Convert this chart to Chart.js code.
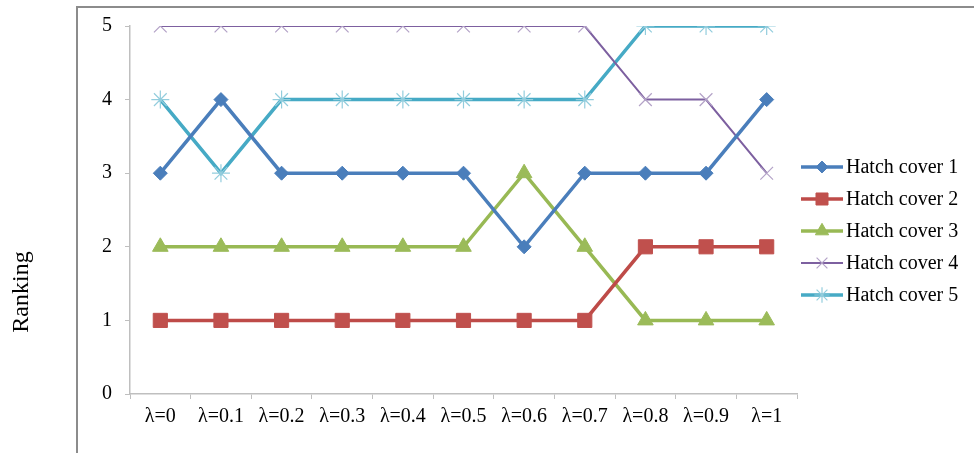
<!DOCTYPE html>
<html>
<head>
<meta charset="utf-8">
<script src="https://cdn.jsdelivr.net/npm/chart.js@4"></script>
<style>
  html, body { margin: 0; padding: 0; background: #fff; }
  #wrap { width: 974px; height: 453px; }
</style>
</head>
<body>
<div id="wrap"><canvas id="myChart" width="974" height="453"></canvas></div>
<script>
// categories + series
const lambdas = ['λ=0', 'λ=0.1', 'λ=0.2', 'λ=0.3', 'λ=0.4', 'λ=0.5', 'λ=0.6', 'λ=0.7', 'λ=0.8', 'λ=0.9', 'λ=1']
const hatch1 = [3, 4, 3, 3, 3, 3, 2, 3, 3, 3, 4]
const hatch2 = [1, 1, 1, 1, 1, 1, 1, 1, 2, 2, 2]
const hatch3 = [2, 2, 2, 2, 2, 2, 3, 2, 1, 1, 1]
const hatch4 = [5, 5, 5, 5, 5, 5, 5, 5, 4, 4, 3]
const hatch5 = [4, 3, 4, 4, 4, 4, 4, 4, 5, 5, 5]
const yTicks = [0, 1, 2, 3, 4, 5]

const serif = '"Liberation Serif", "Times New Roman", serif'

// frame, axis title and legend are drawn here
const extras = {
  id: 'extras',
  beforeDraw(chart) {
    const c = chart.ctx
    c.save()
    c.fillStyle = '#fff'
    c.fillRect(0, 0, chart.width, chart.height)
    c.strokeStyle = '#8c8c8c'
    c.lineWidth = 2
    c.beginPath()
    c.moveTo(77, chart.height + 2)
    c.lineTo(77, 7)
    c.lineTo(chart.width + 2, 7)
    c.stroke()
    c.restore()
  },
  afterDraw(chart) {
    const c = chart.ctx
    const area = chart.chartArea
    c.save()
    // y title
    c.translate(22, 292)
    c.rotate(-Math.PI / 2)
    c.font = '24px ' + serif
    c.fillStyle = '#000'
    c.textAlign = 'center'
    c.textBaseline = 'middle'
    c.fillText('Ranking', 0, 0)
    c.restore()

    // legend
    c.save()
    const x0 = area.right + 4
    let y = 167
    chart.data.datasets.forEach(ds => {
      c.strokeStyle = ds.borderColor
      c.lineWidth = ds.borderWidth
      c.beginPath()
      c.moveTo(x0, y)
      c.lineTo(x0 + 42, y)
      c.stroke()
      c.fillStyle = ds.pointBackgroundColor
      c.strokeStyle = ds.pointBorderColor
      c.lineWidth = ds.pointBorderWidth
      Chart.helpers.drawPoint(c, {
        pointStyle: ds.pointStyle,
        radius: ds.pointRadius * 0.85,
        borderWidth: ds.pointBorderWidth,
        rotation: 0
      }, x0 + 21, y)
      c.font = '20px ' + serif
      c.fillStyle = '#000'
      c.textAlign = 'left'
      c.textBaseline = 'middle'
      c.fillText(ds.label, x0 + 45, y + 1)
      y += 32
    })
    c.restore()
  }
}

const ctx = document.getElementById('myChart')
const myChart = new Chart(ctx, {
  type: 'line',
  data: {
    labels: lambdas,
    datasets: [{
      label: 'Hatch cover 1',
      data: hatch1,
      borderColor: '#4A7EBB',
      borderWidth: 3.5,
      pointStyle: 'rectRot',
      pointRadius: 7,
      pointBackgroundColor: '#4A7EBB',
      pointBorderColor: '#4A7EBB',
      pointBorderWidth: 1
    }, {
      label: 'Hatch cover 2',
      data: hatch2,
      borderColor: '#BE4B48',
      borderWidth: 3.5,
      pointStyle: 'rect',
      pointRadius: 10,
      pointBackgroundColor: '#C0504D',
      pointBorderColor: '#C0504D',
      pointBorderWidth: 1
    }, {
      label: 'Hatch cover 3',
      data: hatch3,
      borderColor: '#98B954',
      borderWidth: 3.5,
      pointStyle: 'triangle',
      pointRadius: 9,
      pointBackgroundColor: '#9BBB59',
      pointBorderColor: '#9BBB59',
      pointBorderWidth: 1
    }, {
      label: 'Hatch cover 4',
      data: hatch4,
      borderColor: '#7D60A0',
      borderWidth: 2,
      pointStyle: 'crossRot',
      pointRadius: 9,
      pointBackgroundColor: '#B3A2C7',
      pointBorderColor: '#B3A2C7',
      pointBorderWidth: 1.2
    }, {
      label: 'Hatch cover 5',
      data: hatch5,
      borderColor: '#46AAC5',
      borderWidth: 3.5,
      pointStyle: 'star',
      pointRadius: 9,
      pointBackgroundColor: '#93CDDD',
      pointBorderColor: '#93CDDD',
      pointBorderWidth: 1.2
    }]
  },
  options: {
    responsive: false,
    animation: false,
    devicePixelRatio: 1,
    layout: { padding: { left: 0, right: 177, top: 26, bottom: 0 } },
    elements: { line: { tension: 0 } },
    scales: {
      x: {
        offset: true,
        border: { color: '#bfbfbf', width: 1.5 },
        grid: { offset: true, drawOnChartArea: false, drawTicks: true, tickLength: 5, color: '#bfbfbf' },
        ticks: { color: '#000', font: { family: serif, size: 20 }, padding: 6, maxRotation: 0, autoSkip: false },
        afterFit(scale) { scale.height = 59 }
      },
      y: {
        min: 0,
        max: 5,
        afterBuildTicks(scale) { scale.ticks = yTicks.map(v => ({ value: v })) },
        border: { color: '#bfbfbf', width: 1.5 },
        grid: { drawOnChartArea: false, drawTicks: true, tickLength: 5, color: '#bfbfbf' },
        ticks: { color: '#000', font: { family: serif, size: 20 }, padding: 13 },
        afterFit(scale) { scale.width = 130 }
      }
    },
    plugins: {
      legend: { display: false },
      tooltip: { enabled: false }
    }
  },
  plugins: [extras]
})
</script>
</body>
</html>
